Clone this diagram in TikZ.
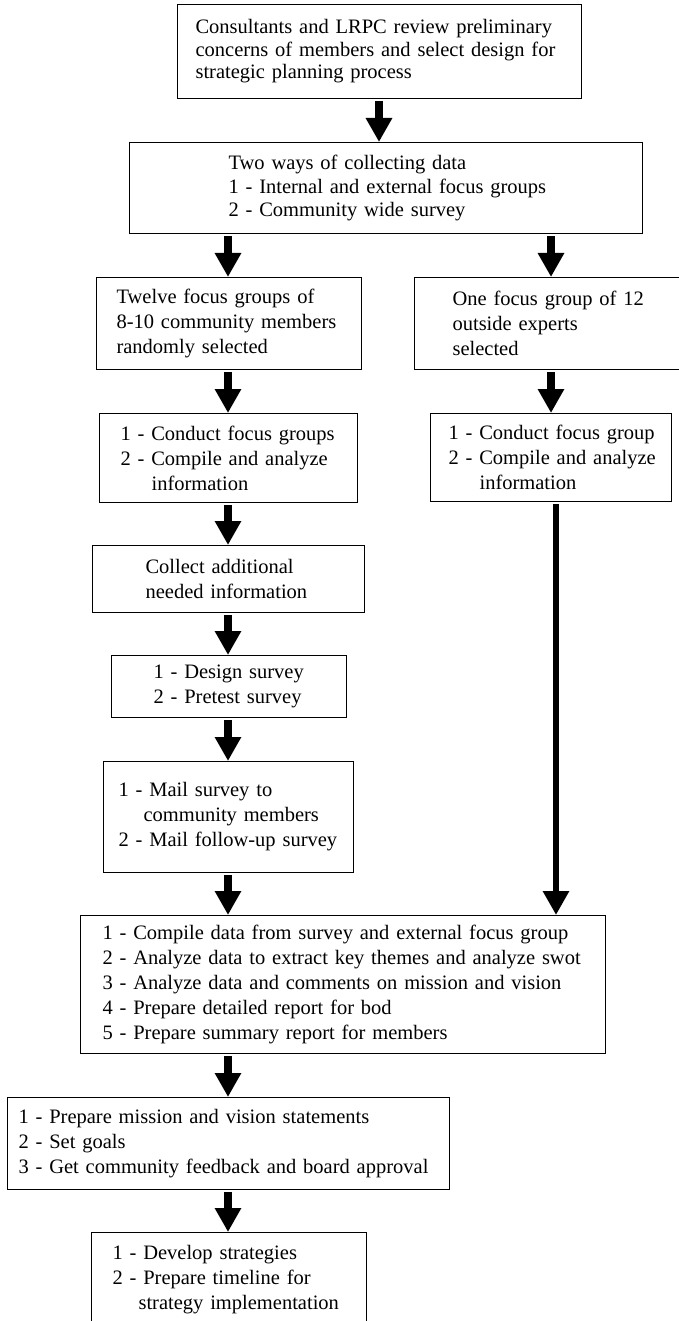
\documentclass[tikz,border=0pt]{standalone}
\usepackage{fontspec}
\setmainfont{Liberation Serif}
\usetikzlibrary{arrows.meta}
\tikzset{
  box/.style={draw=black, line width=1.1pt, rectangle, anchor=north west, align=left,
    inner ysep=0pt, font=\fontsize{20.5pt}{25pt}\selectfont},
  arr/.style={line width=7.5pt, -{Triangle[length=24pt 0 1, width=25pt 0 1]}, shorten <=2pt},
}
\begin{document}
\begin{tikzpicture}[x=1pt,y=1pt]
\useasboundingbox (0,0) rectangle (679,-1321);
\clip (0,0) rectangle (679,-1321);

\node[box, text width=368pt, inner xsep=18pt, minimum height=94pt,
  font=\fontsize{20.5pt}{22.5pt}\selectfont] (b1) at (177,-4)
  {\mbox{Consultants and LRPC review preliminary}\\
   \mbox{concerns of members and select design for}\\
   \mbox{strategic planning process}};

\node[box, text width=315pt, inner xsep=99pt, minimum height=91pt,
  font=\fontsize{20.5pt}{23.5pt}\selectfont] (b2) at (129,-142)
  {\mbox{Two ways of collecting data}\\
   \mbox{1 - Internal and external focus groups}\\
   \mbox{2 - Community wide survey}};

\node[box, text width=225pt, inner xsep=20pt, minimum height=92pt] (b3l) at (96,-277)
  {\mbox{Twelve focus groups of}\\
   \mbox{8-10 community members}\\
   \mbox{randomly selected}};

\node[box, text width=224pt, inner xsep=38pt, minimum height=92pt] (b3r) at (414,-277)
  {\mbox{One focus group of 12}\\
   \mbox{outside experts}\\
   \mbox{selected}};

\node[box, text width=216pt, inner xsep=21pt, minimum height=89pt] (b4l) at (99,-413)
  {\mbox{1 - Conduct focus groups}\\
   \mbox{2 - Compile and analyze}\\
   \mbox{\hspace*{31pt}information}};

\node[box, text width=205pt, inner xsep=18pt, minimum height=88pt] (b4r) at (430,-413)
  {\mbox{1 - Conduct focus group}\\
   \mbox{2 - Compile and analyze}\\
   \mbox{\hspace*{31pt}information}};

\node[box, text width=166pt, inner xsep=53pt, minimum height=67pt] (b5) at (92,-545)
  {\mbox{Collect additional}\\
   \mbox{needed information}};

\node[box, text width=151pt, inner xsep=42pt, minimum height=62pt] (b6) at (111,-655)
  {\mbox{1 - Design survey}\\
   \mbox{2 - Pretest survey}};

\node[box, text width=220pt, inner xsep=15pt, minimum height=111pt] (b7) at (103,-761)
  {\mbox{1 - Mail survey to}\\
   \mbox{\hspace*{25pt}community members}\\
   \mbox{2 - Mail follow-up survey}};

\node[box, text width=481pt, inner xsep=22pt, minimum height=138pt] (b8) at (80,-915)
  {\mbox{1 - Compile data from survey and external focus group}\\
   \mbox{2 - Analyze data to extract key themes and analyze swot}\\
   \mbox{3 - Analyze data and comments on mission and vision}\\
   \mbox{4 - Prepare detailed report for bod}\\
   \mbox{5 - Prepare summary report for members}};

\node[box, text width=420pt, inner xsep=11pt, minimum height=92pt] (b9) at (7,-1097)
  {\mbox{1 - Prepare mission and vision statements}\\
   \mbox{2 - Set goals}\\
   \mbox{3 - Get community feedback and board approval}};

\node[box, text width=233pt, inner xsep=21pt, minimum height=94pt] (b10) at (91,-1232)
  {\mbox{1 - Develop strategies}\\
   \mbox{2 - Prepare timeline for}\\
   \mbox{\hspace*{26pt}strategy implementation}};

\coordinate (cm) at (379,0);
\coordinate (cl) at (228,0);
\coordinate (cr) at (551,0);
\coordinate (cx) at (556,0);

\draw[arr] (b1.south -| cm) -- (b2.north -| cm);
\draw[arr] (b2.south -| cl) -- (b3l.north -| cl);
\draw[arr] (b2.south -| cr) -- (b3r.north -| cr);
\draw[arr] (b3l.south -| cl) -- (b4l.north -| cl);
\draw[arr] (b3r.south -| cr) -- (b4r.north -| cr);
\draw[arr] (b4l.south -| cl) -- (b5.north -| cl);
\draw[arr] (b5.south -| cl) -- (b6.north -| cl);
\draw[arr] (b6.south -| cl) -- (b7.north -| cl);
\draw[arr] (b7.south -| cl) -- (b8.north -| cl);
\draw[arr, line width=6pt] (b4r.south -| cx) -- (b8.north -| cx);
\draw[arr] (b8.south -| cl) -- (b9.north -| cl);
\draw[arr] (b9.south -| cl) -- (b10.north -| cl);
\end{tikzpicture}
\end{document}
